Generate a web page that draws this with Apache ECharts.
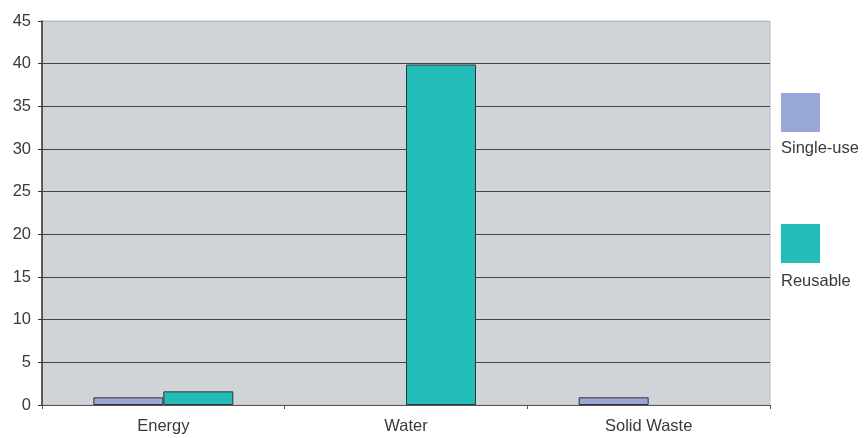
<!DOCTYPE html>
<html>
<head>
<meta charset="utf-8">
<script src="https://cdn.jsdelivr.net/npm/echarts@6/dist/echarts.min.js"></script>
<style>html,body{margin:0;padding:0;background:#fff}#c{width:864px;height:438px}</style>
</head>
<body>
<div id="c"></div>
<script>
const categories = ['Energy', 'Water', 'Solid Waste'];
const singleUse = [0.9, null, 0.9];
const reusable = [1.6, 39.9, null];
const seriesNames = ['Single-use', 'Reusable'];
const colors = ['#98A7D8', '#22BDB8'];

const chart = echarts.init(document.getElementById('c'));
const font = 'Liberation Sans, Arial, sans-serif';
const txt = '#3a3a3a';
chart.setOption({
  animation: false,
  grid: { left: 42, right: 94, top: 21, bottom: 33, show: true, backgroundColor: '#D0D3D8', borderColor: '#B8BBC0', borderWidth: 1 },
  xAxis: {
    type: 'category', data: categories,
    axisLine: { lineStyle: { color: '#555', width: 1 } },
    axisTick: { show: true, length: 4, lineStyle: { color: '#555' } },
    axisLabel: { color: txt, fontSize: 16.5, fontFamily: font, margin: 13 }
  },
  yAxis: {
    type: 'value', min: 0, max: 45, interval: 5,
    axisLine: { show: true, lineStyle: { color: '#333', width: 1.5 } },
    axisTick: { show: true, length: 4, lineStyle: { color: '#333' } },
    axisLabel: { color: txt, fontSize: 16.5, fontFamily: font, margin: 11 },
    splitLine: { show: true, lineStyle: { color: ['#444','#444','#444','#444','#444','#444','#444','#444','#444','#B8BBC0'], width: 1 } }
  },
  series: [
    { name: seriesNames[0], type: 'bar', data: singleUse, barWidth: 70, barGap: '0%', itemStyle: { color: colors[0], borderColor: '#333', borderWidth: 1 } },
    { name: seriesNames[1], type: 'bar', data: reusable, barWidth: 70, barGap: '0%', itemStyle: { color: colors[1], borderColor: '#333', borderWidth: 1 } }
  ],
  graphic: [
    { type: 'rect', left: 781, top: 93, shape: { width: 39, height: 39 }, style: { fill: colors[0] } },
    { type: 'text', left: 781, top: 140, style: { text: seriesNames[0], fill: txt, fontSize: 16.5, fontFamily: font } },
    { type: 'rect', left: 781, top: 224, shape: { width: 39, height: 39 }, style: { fill: colors[1] } },
    { type: 'text', left: 781, top: 273, style: { text: seriesNames[1], fill: txt, fontSize: 16.5, fontFamily: font } }
  ]
});
</script>
</body>
</html>
